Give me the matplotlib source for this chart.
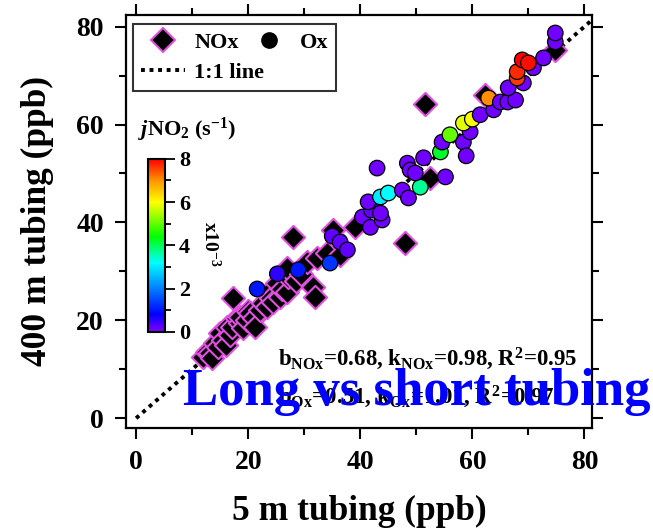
import matplotlib.pyplot as plt
from matplotlib.colors import LinearSegmentedColormap
from matplotlib.lines import Line2D
from matplotlib.ticker import MultipleLocator

# NOx: 5 m tubing vs 400 m tubing (ppb)
nox_x = [12.0, 12.7, 13.2, 13.5, 14.1, 14.6, 15.0, 15.5, 16.0, 16.2, 16.8, 17.1,
         17.3, 18.0, 18.6, 18.6, 19.0, 19.8, 20.0, 20.4, 21.0, 21.2, 22.1, 22.7,
         23.4, 23.6, 24.0, 24.5, 25.2, 25.7, 26.0, 27.0, 27.1, 27.0, 28.0, 28.5,
         29.5, 30.5, 31.6, 32.0, 32.3, 34.1, 35.2, 36.4, 39.1, 48.0, 51.6, 52.5,
         62.3, 74.8]
nox_y = [12.5, 13.5, 13.3, 12.3, 15.3, 14.5, 17.4, 16.0, 15.0, 18.6, 17.0, 18.6,
         24.5, 20.4, 19.4, 20.7, 18.5, 20.0, 22.0, 21.5, 20.5, 18.6, 22.1, 23.5,
         22.7, 25.6, 24.5, 23.7, 27.6, 24.7, 26.3, 25.8, 28.8, 30.7, 37.0, 28.0,
         29.5, 31.9, 26.8, 24.7, 32.7, 33.7, 38.4, 33.3, 39.1, 35.8, 64.2, 49.1,
         66.0, 75.2]

# Ox: 5 m tubing vs 400 m tubing (ppb), coloured by jNO2 (x10^-3 s^-1)
ox_x = [21.6, 25.2, 28.9, 34.6, 35.0, 36.4, 37.7, 40.4, 41.8, 42.0, 43.9, 41.4,
        43.0, 43.6, 45.0, 43.6, 47.5, 48.6, 50.7, 55.2, 48.4, 48.9, 49.8, 51.3,
        54.3, 54.6, 58.4, 58.9, 56.0, 59.6, 58.4, 60.0, 61.4, 63.8, 62.9, 65.0,
        66.3, 67.7, 66.4, 69.1, 68.0, 68.0, 70.9, 68.9, 70.0, 72.7, 74.8, 74.8]
ox_y = [26.4, 29.5, 30.3, 31.7, 37.2, 36.0, 34.4, 41.1, 39.0, 42.5, 40.5, 44.2,
        51.1, 45.2, 46.0, 41.9, 46.6, 45.0, 47.2, 49.3, 52.1, 50.7, 50.1, 53.2,
        54.4, 56.4, 56.4, 53.6, 57.9, 58.5, 60.3, 61.1, 62.0, 63.0, 65.4, 64.6,
        64.6, 65.0, 67.5, 68.5, 69.5, 70.8, 71.6, 73.2, 72.6, 73.6, 76.9, 78.7]
ox_j = [1.0, 0.5, 1.0, 1.3, 0.2, 0.2, 0.2, 0.1, 0.1, 0.2, 0.1, 0.1,
        0.1, 3.0, 3.2, 0.1, 0.1, 0.1, 3.7, 0.1, 0.1, 0.1, 0.1, 0.1,
        4.2, 0.1, 0.1, 0.1, 5.0, 0.1, 5.8, 6.0, 0.1, 0.1, 7.0, 0.1,
        0.1, 0.1, 0.1, 0.1, 7.6, 7.7, 0.1, 8.0, 7.9, 0.1, 0.1, 0.1]

fit_nox = "b$_{\\mathrm{NOx}}$=0.68, k$_{\\mathrm{NOx}}$=0.98, R$^2$=0.95"
fit_ox = "b$_{\\mathrm{Ox}}$=0.51, k$_{\\mathrm{Ox}}$=1.01, R$^2$=0.97"

plt.rcParams['font.family'] = 'Liberation Serif'
plt.rcParams['font.weight'] = 'bold'
plt.rcParams['axes.labelweight'] = 'bold'
plt.rcParams['mathtext.fontset'] = 'custom'
plt.rcParams['mathtext.rm'] = 'Liberation Serif:bold'
plt.rcParams['mathtext.it'] = 'Liberation Serif:bold:italic'
plt.rcParams['mathtext.bf'] = 'Liberation Serif:bold'

cmap = LinearSegmentedColormap.from_list(
    'igor_rainbow',
    [(0.0, '#7f00ff'), (0.1, '#0000ff'), (0.4, '#00ffff'),
     (0.55, '#00ff00'), (0.75, '#ffff00'), (0.87, '#ff9900'), (1.0, '#ff0000')])

fig = plt.figure(figsize=(6.53, 5.31), dpi=100)
ax = fig.add_axes([0.193, 0.194, 0.714, 0.778])

# 1:1 line
ax.plot([0, 82], [0, 82], color='k', lw=2.8, ls=(0, (1, 1.2)), zorder=1)

ax.scatter(nox_x, nox_y, marker='D', s=140, c='k', edgecolors='#e050e0',
           linewidths=1.5, zorder=2)
sc = ax.scatter(ox_x, ox_y, marker='o', s=125, c=ox_j, cmap=cmap, vmin=0, vmax=8,
                edgecolors='k', linewidths=0.9, zorder=3)

ax.set_xlim(-1.8, 81.4)
ax.set_ylim(-2.0, 82.4)
ax.xaxis.set_major_locator(MultipleLocator(20))
ax.xaxis.set_minor_locator(MultipleLocator(10))
ax.yaxis.set_major_locator(MultipleLocator(20))
ax.yaxis.set_minor_locator(MultipleLocator(10))
ax.tick_params(which='both', direction='out', top=True, right=True, width=1.5,
               labelsize=20, pad=8)
ax.tick_params(which='major', length=8)
ax.tick_params(which='minor', length=5)
for sp in ax.spines.values():
    sp.set_linewidth(1.6)

ax.set_xlabel('5 m tubing (ppb)', fontsize=25.5, labelpad=14)
ax.set_ylabel('400 m tubing (ppb)', fontsize=25.5, labelpad=16)

handles = [
    Line2D([], [], ls='', marker='D', ms=12, mfc='k', mec='#e050e0', mew=1.5),
    Line2D([], [], ls=(0, (1, 1.2)), color='k', lw=2.8),
    Line2D([], [], ls='', marker='o', ms=11, mfc='k', mec='k'),
    Line2D([], [], ls='', marker=''),
]
leg = ax.legend(handles, ['NOx', '1:1 line', 'Ox', ''], ncol=2, loc='upper left',
                bbox_to_anchor=(0.015, 0.977), fontsize=16, frameon=True,
                fancybox=False, edgecolor='k', handlelength=2.0,
                handletextpad=0.4, columnspacing=-0.8, borderpad=0.35,
                labelspacing=0.45, borderaxespad=0)
leg.get_frame().set_linewidth(1.5)

# jNO2 colour scale
cax = fig.add_axes([0.2266, 0.375, 0.026, 0.326])
cb = fig.colorbar(sc, cax=cax, ticks=[0, 2, 4, 6, 8])
cb.ax.yaxis.set_minor_locator(MultipleLocator(1))
cb.ax.tick_params(which='both', direction='out', width=1.3, labelsize=16, pad=3)
cb.ax.tick_params(which='major', length=7)
cb.ax.tick_params(which='minor', length=4)
cb.outline.set_linewidth(1.5)
fig.text(0.212, 0.755, '$\\mathit{j}$NO$_2$ (s$^{-1}$)', fontsize=16, va='center')
fig.text(0.322, 0.54, 'x10$^{-3}$', fontsize=14, rotation=-90, va='center', ha='center')

fig.text(0.425, 0.325, fit_nox, fontsize=16.5, va='center')
fig.text(0.425, 0.252, fit_ox, fontsize=16.5, va='center')

fig.text(0.28, 0.262, 'Long vs short tubing', fontsize=38, color='#0000ff', va='center')

fig.savefig('out.png', dpi=100)
